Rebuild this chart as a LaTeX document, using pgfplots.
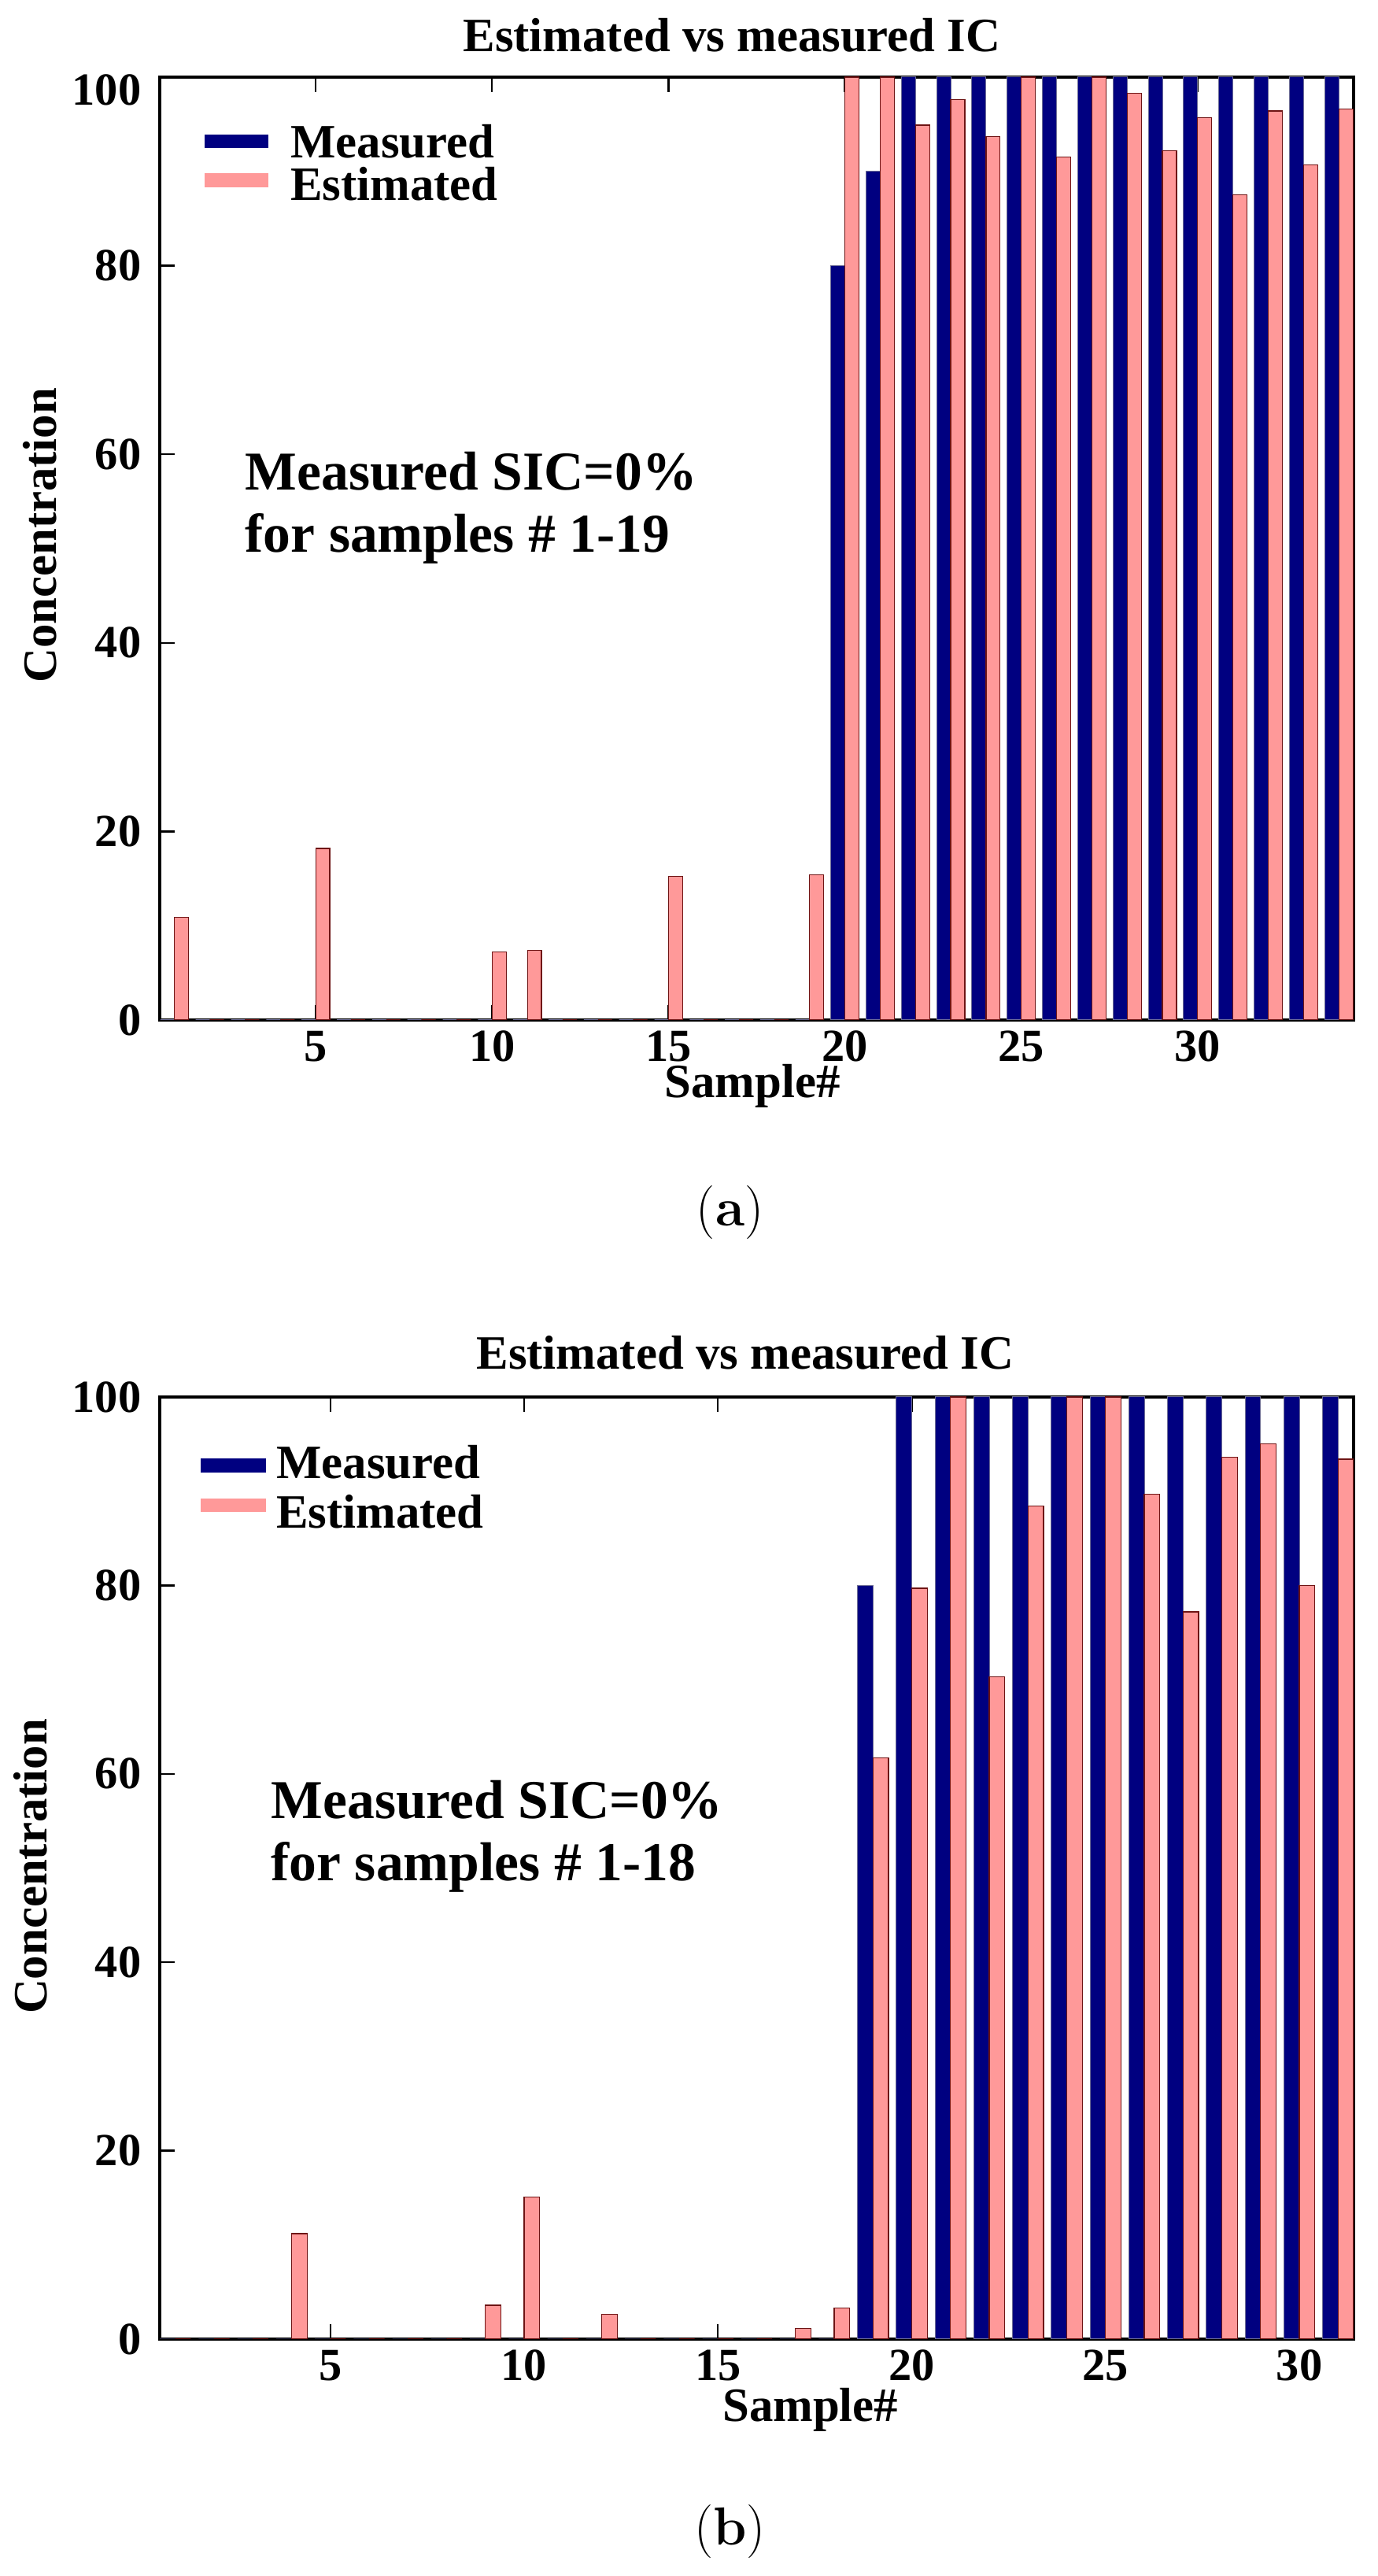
\documentclass[border=0pt]{standalone}
\usepackage{fontspec}
\usepackage{pgfplots}
\pgfplotsset{compat=1.18}
\usepackage{pgfplotstable}
\newfontfamily\tnr{Liberation Serif}
\newcommand\fLab{\tnr\bfseries\fontsize{15.2}{17}\selectfont}
\newcommand\fTick{\tnr\bfseries\fontsize{14.6}{16}\selectfont}
\newcommand\fNote{\tnr\bfseries\fontsize{17.4}{19.75}\selectfont}
\definecolor{meas}{RGB}{0,0,128}
\definecolor{est}{RGB}{255,153,153}
\definecolor{estedge}{RGB}{110,20,20}
\definecolor{measedge}{RGB}{110,110,150}

\pgfplotstableread{
n m e
1 0 10.9
2 0 0
3 0 0
4 0 0
5 0 18.2
6 0 0
7 0 0
8 0 0
9 0 0
10 0 7.2
11 0 7.4
12 0 0
13 0 0
14 0 0
15 0 15.25
16 0 0
17 0 0
18 0 0
19 0 15.4
20 80 100
21 90 100
22 100 94.9
23 100 97.6
24 100 93.7
25 100 100
26 100 91.5
27 100 100
28 100 98.3
29 100 92.2
30 100 95.7
31 100 87.5
32 100 96.4
33 100 90.7
34 100 96.6
}\dataA

\pgfplotstableread{
n m e
1 0 0
2 0 0
3 0 0
4 0 11.2
5 0 0
6 0 0
7 0 0
8 0 0
9 0 3.6
10 0 15.1
11 0 0
12 0 2.6
13 0 0
14 0 0
15 0 0
16 0 0
17 0 1.1
18 0 3.3
19 80 61.7
20 100 79.7
21 100 100
22 100 70.3
23 100 88.4
24 100 100
25 100 100
26 100 89.7
27 100 77.2
28 100 93.6
29 100 95.0
30 100 80.0
31 100 93.4
}\dataB

\pgfplotsset{
  sicbar/.style={
    scale only axis, anchor=south west,
    ymin=0, ymax=100,
    xtick={5,10,15,20,25,30},
    tick align=inside, xtick pos=both, ytick pos=both,
    major tick length=4.75pt,
    axis line style={line width=0.8pt},
    every tick/.style={black, line width=0.6pt},
    /pgf/number format/assume math mode=true,
    tick label style={font=\fTick},
    xticklabel style={inner sep=0pt, yshift=-3.25pt},
    yticklabel style={inner sep=0pt, xshift=-5.75pt},
    every axis title shift=0pt,
    title style={anchor=base, font=\fLab, inner sep=0pt, yshift=0pt},
    xlabel style={anchor=base, font=\fLab, inner sep=0pt},
    ylabel style={anchor=base, font=\fLab, inner sep=0pt},
    legend cell align=left,
    legend style={draw=none, fill=none, anchor=north west, inner sep=0pt, outer sep=0pt,
      font=\fLab, nodes={inner sep=0pt, text height=10.3pt, text depth=0pt}},
  },
  measbar/.style={ybar, bar width=0.4, bar shift=0pt, fill=meas, draw=measedge, line width=0.25pt},
  estbar/.style={ybar, bar width=0.4, bar shift=0pt, fill=est, draw=estedge, line width=0.3pt},
}
% legend swatch: #1 colour, #2 width, #3 bottom, #4 top (relative to text centre)
\newcommand\swatch[4]{\path (0pt,0pt) (#2,0pt); \fill[#1, overlay] (0pt,#3) rectangle (#2,#4);}

\begin{document}
\begin{tikzpicture}
\useasboundingbox (0,0) rectangle (437.5pt,818.25pt);

% ---------- (a) ----------
\begin{axis}[sicbar, at={(50.75pt,494.25pt)}, width=379.25pt, height=299.5pt,
  xmin=0.58, xmax=34.42,
  ytick={0,20,40,60,80}, extra y ticks={100},
  extra y tick style={yticklabel style={yshift=-4pt}},
  title={Estimated vs measured IC},
  title style={at={(axis description cs:0.4792,1.0275)}},
  xlabel={Sample\#}, xlabel style={at={(axis description cs:0.4964,-0.0826)}},
  ylabel={Concentration}, ylabel style={at={(axis description cs:-0.0870,0.5138)}},
  legend style={at={(axis description cs:0.0376,0.9491)}, column sep=7pt, row sep=3.2pt},
]
\addplot[measbar, legend image code/.code={\swatch{meas}{20pt}{-2.05pt}{1.95pt}}]
  table[x expr=\thisrow{n}-0.2, y=m]{\dataA};
\addlegendentry{Measured}
\addplot[estbar, legend image code/.code={\swatch{est}{20pt}{-0.85pt}{3.15pt}}]
  table[x expr=\thisrow{n}+0.2, y=e]{\dataA};
\addlegendentry{Estimated}
\node[anchor=base west, font=\fNote, inner sep=0pt] at (axis description cs:0.0712,0.5618)
  {\begin{tabular}[t]{@{}l@{}}Measured SIC=0\%\\for samples \# 1-19\end{tabular}};
\end{axis}

% ---------- (b) ----------
\begin{axis}[sicbar, at={(50.75pt,75.25pt)}, width=379.25pt, height=299.25pt,
  xmin=0.6, xmax=31.4,
  ytick={0,20,40,60,80,100},
  title={Estimated vs measured IC},
  title style={at={(axis description cs:0.4904,1.0298)}},
  xlabel={Sample\#}, xlabel style={at={(axis description cs:0.545,-0.0869)}},
  ylabel={Concentration}, ylabel style={at={(axis description cs:-0.0943,0.5017)}},
  legend style={at={(axis description cs:0.0343,0.9482)}, column sep=3.25pt, row sep=5.6pt},
]
\addplot[measbar, legend image code/.code={\swatch{meas}{20.5pt}{-3.15pt}{1.1pt}}]
  table[x expr=\thisrow{n}-0.2, y=m]{\dataB};
\addlegendentry{Measured}
\addplot[estbar, legend image code/.code={\swatch{est}{20.5pt}{0.25pt}{4.05pt}}]
  table[x expr=\thisrow{n}+0.2, y=e]{\dataB};
\addlegendentry{Estimated}
\node[anchor=base west, font=\fNote, inner sep=0pt] at (axis description cs:0.0929,0.5525)
  {\begin{tabular}[t]{@{}l@{}}Measured SIC=0\%\\for samples \# 1-18\end{tabular}};
\end{axis}

\node[anchor=base, inner sep=0pt, font=\fontsize{17}{19}\selectfont] at (231.9pt,428.9pt) {(\textbf{a})};
\node[anchor=base, inner sep=0pt, font=\fontsize{17}{19}\selectfont] at (231.9pt,9.75pt) {(\textbf{b})};
\end{tikzpicture}
\end{document}
